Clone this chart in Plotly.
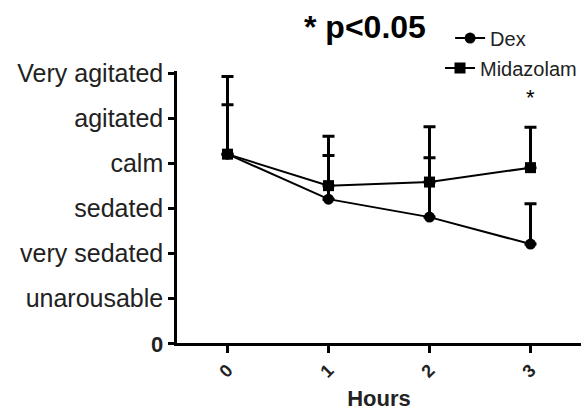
import plotly.graph_objects as go

hours = [0, 1, 2, 3]
dex_mean = [4.2, 3.2, 2.8, 2.2]
dex_err = [1.1, 0.97, 1.32, 0.9]
mid_mean = [4.2, 3.5, 3.58, 3.9]
mid_err = [1.73, 1.1, 1.23, 0.9]

y_tickvals = [0, 1, 2, 3, 4, 5, 6]
y_ticktext = ["<span style='font-size:22px'><b>0</b></span>", "unarousable", "very sedated",
              "sedated", "calm", "agitated", "Very agitated"]
x_ticktext = ["<b>0</b>", "<b>1</b>", "<b>2</b>", "<b>3</b>"]

FONT = "Arial, Liberation Sans, sans-serif"

fig = go.Figure()
fig.add_trace(go.Scatter(
    x=hours, y=dex_mean, name="Dex", mode="lines+markers",
    line=dict(color="black", width=2),
    marker=dict(symbol="circle", size=11, color="black"),
    error_y=dict(type="data", array=dex_err, arrayminus=[0]*4, symmetric=False,
                 color="black", thickness=3, width=6),
    legend="legend", showlegend=True,
))
fig.add_trace(go.Scatter(
    x=hours, y=mid_mean, name="Midazolam", mode="lines+markers",
    line=dict(color="black", width=2),
    marker=dict(symbol="square", size=11, color="black"),
    error_y=dict(type="data", array=mid_err, arrayminus=[0]*4, symmetric=False,
                 color="black", thickness=3, width=6),
    legend="legend2", showlegend=True,
))

fig.add_annotation(x=3, y=5.45, xref="x", yref="y", text="*", showarrow=False,
                   font=dict(family=FONT, size=22, color="black"))
fig.add_annotation(x=0.465, y=1.0, xref="paper", yref="paper", yshift=44, yanchor="middle",
                   text="<b>* p<0.05</b>", showarrow=False,
                   font=dict(family=FONT, size=32, color="black"))

fig.update_layout(
    width=587, height=413,
    margin=dict(l=177, r=6, t=71, b=70, autoexpand=False),
    paper_bgcolor="white", plot_bgcolor="white",
    showlegend=True,
    font=dict(family=FONT, color="#222"),
    legend=dict(x=0.676, y=1.121, xanchor="left", yanchor="middle",
                bgcolor="rgba(0,0,0,0)", font=dict(family=FONT, size=20, color="#222"),
                itemwidth=30),
    legend2=dict(x=0.651, y=1.011, xanchor="left", yanchor="middle",
                 bgcolor="rgba(0,0,0,0)", font=dict(family=FONT, size=20, color="#222"),
                 itemwidth=30),
)
fig.update_xaxes(
    range=[-0.5, 3.5], tickvals=hours, ticktext=x_ticktext, tickangle=-45,
    showline=True, linecolor="black", linewidth=2.5, showgrid=False, zeroline=False,
    ticks="outside", ticklen=7, tickwidth=2.5, tickcolor="black",
    tickfont=dict(family=FONT, size=18, color="#222"),
    title=dict(text="<b>Hours</b>", font=dict(family=FONT, size=22, color="#222"), standoff=10),
)
fig.update_yaxes(
    range=[0, 6.05], tickvals=y_tickvals, ticktext=y_ticktext,
    showline=True, linecolor="black", linewidth=2.5, showgrid=False, zeroline=False,
    ticks="outside", ticklen=6, tickwidth=2.5, tickcolor="black",
    tickfont=dict(family=FONT, size=25, color="#222"),
)

fig.write_html("out.html", config={"displayModeBar": False},
               post_script="document.body.style.margin='0';")
